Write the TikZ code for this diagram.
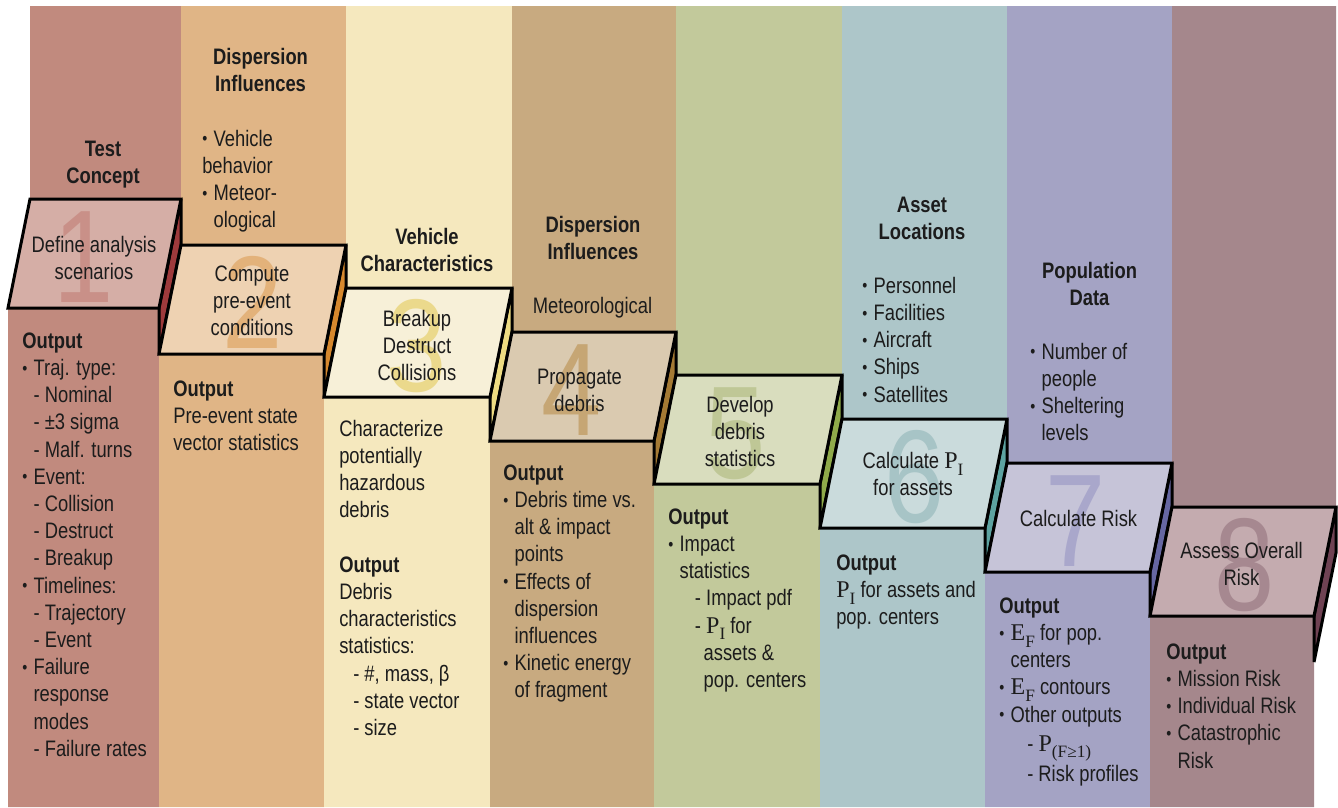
\documentclass[tikz,border=0pt]{standalone}
\usepackage{fontspec}
\setmainfont{Liberation Sans}[FakeStretch=0.82]
\newfontfamily\tms{Liberation Serif}
\definecolor{tc}{HTML}{1C1C1C}
% column colours
\definecolor{c1}{HTML}{C18A7E}\definecolor{b1}{HTML}{D5AEA6}\definecolor{s1}{HTML}{9E3A3C}\definecolor{n1}{HTML}{C99088}
\definecolor{c2}{HTML}{E0B586}\definecolor{b2}{HTML}{EED2B2}\definecolor{s2}{HTML}{D6882E}\definecolor{n2}{HTML}{E3B27A}
\definecolor{c3}{HTML}{F5E8BE}\definecolor{b3}{HTML}{F7F0D8}\definecolor{s3}{HTML}{EEDC82}\definecolor{n3}{HTML}{EBD98C}
\definecolor{c4}{HTML}{C8AA80}\definecolor{b4}{HTML}{DACAB0}\definecolor{s4}{HTML}{A47A34}\definecolor{n4}{HTML}{C6A674}
\definecolor{c5}{HTML}{C2C99B}\definecolor{b5}{HTML}{D9DDBE}\definecolor{s5}{HTML}{8FAA4A}\definecolor{n5}{HTML}{BFC796}
\definecolor{c6}{HTML}{ADC6C9}\definecolor{b6}{HTML}{CADBDC}\definecolor{s6}{HTML}{5DA3A1}\definecolor{n6}{HTML}{A7C4C6}
\definecolor{c7}{HTML}{A4A3C4}\definecolor{b7}{HTML}{C6C4D8}\definecolor{s7}{HTML}{6667A2}\definecolor{n7}{HTML}{A9A7CB}
\definecolor{c8}{HTML}{A5878C}\definecolor{b8}{HTML}{C4ABAF}\definecolor{s8}{HTML}{6F4253}\definecolor{n8}{HTML}{A68890}
\newcommand{\bul}{\raisebox{0.06em}{\scalebox{0.78}{\textbullet}}}
\newcommand{\bi}{\makebox[8.5pt][l]{\bul}}
\newcommand{\ind}{\hspace*{8.5pt}}
\newcommand{\strt}{\rule{0pt}{16pt}}
\newcommand{\sub}[2]{{\tms\fontsize{18}{20}\selectfont #1\raisebox{-0.28em}{\fontsize{13}{13}\selectfont #2}}}
\tikzset{
  txt/.style={anchor=north west, inner sep=0pt, align=left, text=tc, font=\fontsize{16.8}{20.4}\selectfont},
  hd/.style={anchor=north, inner sep=0pt, align=center, text=tc, font=\fontsize{16.8}{20.4}\selectfont\bfseries},
  ctr/.style={anchor=north, inner sep=0pt, align=center, text=tc, font=\fontsize{16.8}{20.4}\selectfont},
  num/.style={anchor=base, inner sep=0pt, font=\fontsize{99}{99}\selectfont},
  edge/.style={line width=2.25pt, line join=miter, draw=black},
}
\begin{document}
\begin{tikzpicture}[x=0.75pt, y=-0.75pt]
\useasboundingbox (0,0) rectangle (1338,807);
\fill[white] (0,0) rectangle (1338,807);
% columns
\foreach \i/\L/\R/\T/\Tn in {1/30/181/199/245, 2/181/346/245/288, 3/346/512/288/332, 4/512/676/332/375, 5/676/842/375/419, 6/842/1007/419/463, 7/1007/1172/463/507, 8/1172/1336/507/553}{
  \fill[c\i] (\L,6) -- (\R,6) -- (\R,\T) -- ({\R-22},{\T+109}) -- ({\R-22},807) -- ({\L-22},807) -- ({\L-22},{\T+109}) -- (\L,\T) -- cycle;
}
% side faces and box fills
\foreach \i/\L/\R/\T/\Tn in {1/30/181/199/245, 2/181/346/245/288, 3/346/512/288/332, 4/512/676/332/375, 5/676/842/375/419, 6/842/1007/419/463, 7/1007/1172/463/507, 8/1172/1336/507/553}{
  \filldraw[fill=s\i, edge] (\R,\T) -- (\R,\Tn) -- ({\R-22},{\Tn+109}) -- ({\R-22},{\T+109}) -- cycle;
  \fill[b\i] (\L,\T) -- (\R,\T) -- ({\R-22},{\T+109}) -- ({\L-22},{\T+109}) -- cycle;
}
% big step numbers
\node[num, text=n1] (d1) at (84,302) {1};
\node[num, text=n2] (d2) at (252.5,348) {2};
\node[num, text=n3] (d3) at (417,391) {3};
\node[num, text=n4] (d4) at (572,435) {4};
\node[num, text=n5] (d5) at (736,478) {5};
\node[num, text=n6] (d6) at (915,522) {6};
\node[num, text=n7] (d7) at (1076,566) {7};
\node[num, text=n8] (d8) at (1245,610) {8};
% box outlines
\foreach \i/\L/\R/\T/\Tn in {1/30/181/199/245, 2/181/346/245/288, 3/346/512/288/332, 4/512/676/332/375, 5/676/842/375/419, 6/842/1007/419/463, 7/1007/1172/463/507, 8/1172/1336/507/553}{
  \draw[edge] (\L,\T) -- (\R,\T) -- ({\R-22},{\T+109}) -- ({\L-22},{\T+109}) -- cycle;
}
% box texts
\node[ctr] (t1) at (94,230.7) {\strt Define analysis\\scenarios};
\node[ctr] (t2) at (252,259.7) {\strt Compute\\pre-event\\conditions};
\node[ctr] (t3) at (417,304.7) {\strt Breakup\\Destruct\\Collisions};
\node[ctr] (t4) at (579.5,362.7) {\strt Propagate\\debris};
\node[ctr] (t5) at (740,390.7) {\strt Develop\\debris\\statistics};
\node[ctr] (t6) at (913,446.7) {\strt Calculate \sub{P}{I}\\for assets};
\node[ctr] (t7) at (1078.5,504.7) {\strt Calculate Risk};
\node[ctr] (t8) at (1241.5,536.7) {\strt Assess Overall\\Risk};
% column 1
\node[hd] (h1) at (103,134.7) {\strt Test\\Concept};
\node[txt] (o1) at (22,326.7) {\strt\textbf{Output}\\\bi Traj. type:\\\ind- Nominal\\\ind- ±3 sigma\\\ind- Malf. turns\\\bi Event:\\\ind- Collision\\\ind- Destruct\\\ind- Breakup\\\bi Timelines:\\\ind- Trajectory\\\ind- Event\\\bi Failure\\\ind response\\\ind modes\\\ind- Failure rates};
% column 2
\node[hd] (h2) at (260.5,42.7) {\strt Dispersion\\Influences};
\node[txt] (l2) at (202,124.7) {\strt\bi Vehicle\\behavior\\\bi Meteor-\\\ind ological};
\node[txt] (o2) at (173,374.7) {\strt\textbf{Output}\\Pre-event state\\vector statistics};
% column 3
\node[hd] (h3) at (427,222.7) {\strt Vehicle\\Characteristics};
\node[txt] (o3) at (339,414.7) {\strt Characterize\\potentially\\hazardous\\debris\\[20.4pt]\textbf{Output}\\Debris\\characteristics\\statistics:\\\hspace*{10.5pt}- \#, mass, β\\\hspace*{10.5pt}- state vector\\\hspace*{10.5pt}- size};
% column 4
\node[hd] (h4) at (593,210.7) {\strt Dispersion\\Influences};
\node[ctr] (l4) at (592.5,291.7) {\strt Meteorological};
\node[txt] (o4) at (503,458.7) {\strt\textbf{Output}\\\bi Debris time vs.\\\ind alt \& impact\\\ind points\\\bi Effects of\\\ind dispersion\\\ind influences\\\bi Kinetic energy\\\ind of fragment};
% column 5
\node[txt] (o5) at (668,502.7) {\strt\textbf{Output}\\\bi Impact\\\ind statistics\\\hspace*{20pt}- Impact pdf\\\hspace*{20pt}- \sub{P}{I} for\\\hspace*{26.5pt}assets \&\\\hspace*{26.5pt}pop. centers};
% column 6
\node[hd] (h6) at (922,190.7) {\strt Asset\\Locations};
\node[txt] (l6) at (862,271.7) {\strt\bi Personnel\\\bi Facilities\\\bi Aircraft\\\bi Ships\\\bi Satellites};
\node[txt] (o6) at (836,548.7) {\strt\textbf{Output}\\\sub{P}{I} for assets and\\pop. centers};
% column 7
\node[hd] (h7) at (1089.5,256.7) {\strt Population\\Data};
\node[txt] (l7) at (1030,337.7) {\strt\bi Number of\\\ind people\\\bi Sheltering\\\ind levels};
\node[txt] (o7) at (999,591.7) {\strt\textbf{Output}\\\bi\sub{E}{F} for pop.\\\ind centers\\\bi\sub{E}{F} contours\\\bi Other outputs\\[1.3pt]\hspace*{21pt}- \sub{P}{(F≥1)}\\[2.8pt]\hspace*{21pt}- Risk profiles};
% column 8
\node[txt] (o8) at (1166,637.7) {\strt\textbf{Output}\\\bi Mission Risk\\\bi Individual Risk\\\bi Catastrophic\\\ind Risk};
\end{tikzpicture}
\end{document}
